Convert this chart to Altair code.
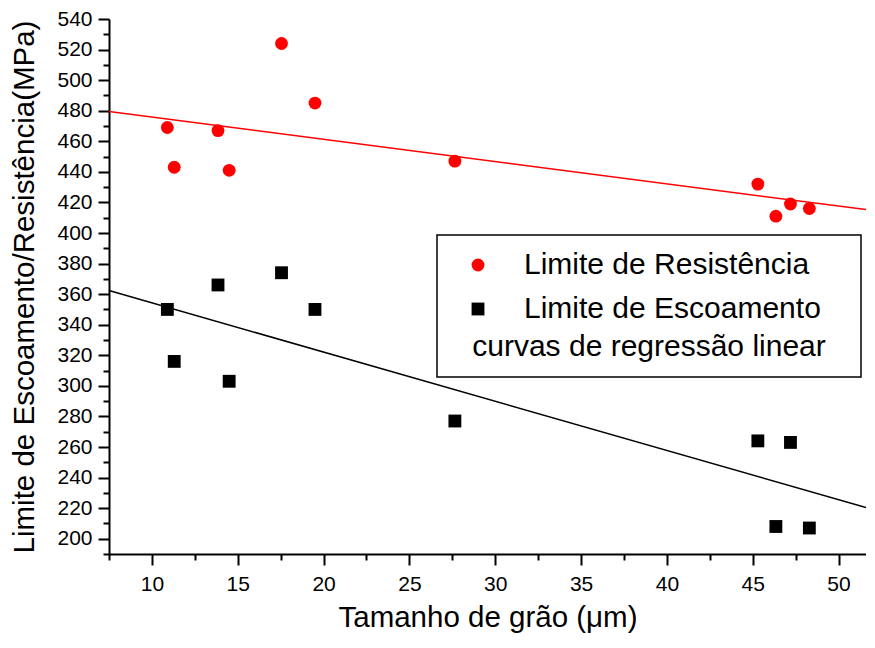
import altair as alt
import pandas as pd

# grain size (micrometres)
grain = [10.9, 11.3, 13.85, 14.5, 17.55, 19.5, 27.65, 45.3, 46.35, 47.2, 48.3]
# tensile strength (MPa)
resistencia = [469, 443, 467, 441, 524, 485, 447, 432, 411, 419, 416]
# yield strength (MPa)
escoamento = [350, 316, 366, 303, 374, 350, 277, 264, 208, 263, 207]

series_names = ["Limite de Resistência", "Limite de Escoamento"]
series_colors = ["#ff0000", "#000000"]
series_shapes = ["circle", "square"]

x_domain = [7.5, 51.6]
y_domain = [190, 540]
x_ticks = [7.5 + 2.5 * i for i in range(18)]
y_ticks = list(range(190, 541, 10))

df = pd.DataFrame({
    "x": grain * 2,
    "y": resistencia + escoamento,
    "serie": [series_names[0]] * len(grain) + [series_names[1]] * len(grain),
})

FONT = "Liberation Sans"
# non-trimmed blank tail so the legend box gets its original width
PAD = "\u00a0" * 3 + "\u200b"

xscale = alt.Scale(domain=x_domain, nice=False, zero=False)
yscale = alt.Scale(domain=y_domain, nice=False, zero=False)

x_axis = alt.Axis(
    title="Tamanho de grão (μm)",
    values=x_ticks,
    tickCount=500,
    format="d",
    labelExpr="datum.value % 5 === 0 ? datum.label : ''",
    tickSize={"condition": {"test": "datum.value % 5 === 0", "value": 11}, "value": 6},
    labelOverlap=False,
    labelFlush=False,
    grid=False,
    labelPadding=8,
    titlePadding=9,
)
y_axis = alt.Axis(
    title="Limite de Escoamento/Resistência(MPa)",
    values=y_ticks,
    tickCount=500,
    format="d",
    labelExpr="datum.value % 20 === 0 ? datum.label : ''",
    tickSize={"condition": {"test": "datum.value % 20 === 0", "value": 11}, "value": 6},
    labelOverlap=False,
    labelFlush=False,
    grid=False,
    labelPadding=6,
    titlePadding=17,
)

legend = alt.Legend(
    title="curvas de regressão linear",
    orient="none",
    legendX=328,
    legendY=216,
    titleOrient="bottom",
    titleAnchor="middle",
    labelExpr="datum.label + '" + PAD + "'",
)

points = alt.Chart(df).mark_point(filled=True, opacity=1, size=165).encode(
    x=alt.X("x:Q", scale=xscale, axis=x_axis),
    y=alt.Y("y:Q", scale=yscale, axis=y_axis),
    color=alt.Color(
        "serie:N",
        scale=alt.Scale(domain=series_names, range=series_colors),
        legend=legend,
    ),
    shape=alt.Shape(
        "serie:N",
        scale=alt.Scale(domain=series_names, range=series_shapes),
        legend=legend,
    ),
)

def reg_line(name, color):
    return alt.Chart(df).transform_filter(
        alt.datum.serie == name
    ).transform_regression(
        "x", "y", extent=x_domain
    ).mark_line(color=color, strokeWidth=1.5).encode(
        x=alt.X("x:Q", scale=xscale, axis=x_axis),
        y=alt.Y("y:Q", scale=yscale, axis=y_axis),
    )

chart = alt.layer(
    reg_line(series_names[0], series_colors[0]),
    reg_line(series_names[1], series_colors[1]),
    points,
).properties(
    width=757,
    height=535,
    autosize=alt.AutoSizeParams(type="none"),
    padding={"left": 101, "top": 11, "right": 0, "bottom": 82},
).configure_view(
    stroke=None
).configure_axis(
    domainColor="black",
    domainWidth=2,
    tickColor="black",
    tickWidth=2,
    labelFont=FONT,
    labelFontSize=21,
    labelColor="black",
    titleFont=FONT,
    titleFontSize=29.5,
    titleFontWeight="normal",
    titleColor="black",
).configure_legend(
    strokeColor="black",
    strokeWidth=1.5,
    fillColor="white",
    padding=15,
    labelFont=FONT,
    labelFontSize=30,
    labelColor="black",
    titleFont=FONT,
    titleFontSize=30,
    titleFontWeight="normal",
    titleColor="black",
    titlePadding=8,
    titleLimit=600,
    labelLimit=600,
    symbolSize=165,
    symbolOffset=11,
    labelOffset=31,
    rowPadding=14,
    symbolStrokeWidth=0,
)

chart.save("out.html", embed_options={"renderer": "svg", "actions": False})
